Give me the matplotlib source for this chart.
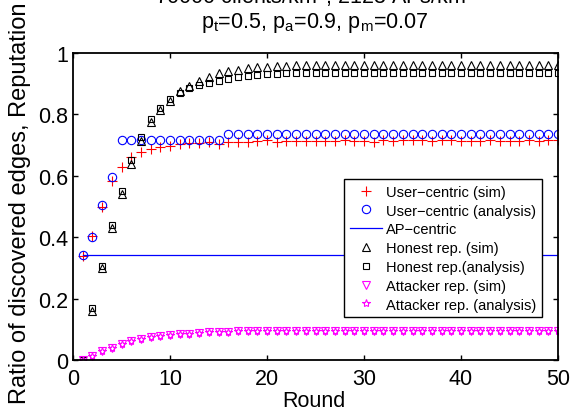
import matplotlib
matplotlib.use("Agg")
import matplotlib.pyplot as plt
import numpy as np

plt.rcParams['font.family'] = ['Liberation Sans', 'DejaVu Sans']
plt.rcParams['mathtext.fontset'] = 'custom'
plt.rcParams['mathtext.rm'] = 'Liberation Sans'
plt.rcParams['mathtext.it'] = 'Liberation Sans'

# ---- data -------------------------------------------------------------
rounds = np.arange(1, 51)

user_sim = [0.340, 0.405, 0.500, 0.584, 0.630, 0.660, 0.676, 0.687, 0.693, 0.697,
            0.702, 0.706, 0.708, 0.709, 0.705, 0.709, 0.711, 0.711, 0.713, 0.717,
            0.711, 0.712, 0.713, 0.713, 0.713, 0.713, 0.713, 0.717, 0.713, 0.712,
            0.711, 0.716, 0.714, 0.716, 0.715, 0.715, 0.714, 0.716, 0.715, 0.714,
            0.714, 0.714, 0.715, 0.714, 0.714, 0.714, 0.715, 0.714, 0.716, 0.715]

user_ana = [0.342, 0.400, 0.506, 0.595] + [0.716] * 11 + [0.736] * 35

ap_centric = 0.342

honest_sim = [0.000, 0.159, 0.299, 0.430, 0.540, 0.640, 0.714, 0.775, 0.815, 0.845,
              0.877, 0.894, 0.910, 0.923, 0.934, 0.941, 0.946, 0.950, 0.953, 0.956,
              0.958, 0.959] + [0.961] * 28

honest_ana = [0.000, 0.168, 0.307, 0.440, 0.550, 0.650, 0.726, 0.785, 0.822, 0.850,
              0.869, 0.885, 0.896, 0.903, 0.909, 0.916, 0.921, 0.926, 0.929, 0.932,
              0.933, 0.934] + [0.935] * 28

attacker_sim = [0.000, 0.014, 0.029, 0.040, 0.051, 0.062, 0.068, 0.074, 0.077, 0.081,
                0.084, 0.086, 0.088, 0.090, 0.091, 0.092, 0.093, 0.094] + [0.095] * 32

attacker_ana = [0.000, 0.014, 0.029, 0.040, 0.051, 0.062, 0.069, 0.075, 0.078, 0.081,
                0.084, 0.086, 0.088, 0.090, 0.091, 0.092, 0.093, 0.094] + [0.095] * 32

labels = ["User\u2212centric (sim)", "User\u2212centric (analysis)", "AP\u2212centric",
          "Honest rep. (sim)", "Honest rep.(analysis)", "Attacker rep. (sim)",
          "Attacker rep. (analysis)"]

# ---- figure -----------------------------------------------------------
W, H = 570, 410
fig = plt.figure(figsize=(W / 100, H / 100), dpi=100)
ax = fig.add_axes([73 / W, 49 / H, 485 / W, 307 / H])

ms = 6
mew = 0.8
ax.plot(rounds, user_sim, ls='none', marker='+', color='#ff0000', ms=ms + 1, mew=mew, label=labels[0])
ax.plot(rounds, user_ana, ls='none', marker='o', mfc='none', mec='#0000ff', ms=ms, mew=mew, label=labels[1])
ax.plot(rounds, [ap_centric] * len(rounds), ls='-', color='#0000ff', lw=0.9, label=labels[2])
ax.plot(rounds, honest_sim, ls='none', marker='^', mfc='none', mec='black', ms=ms, mew=mew, label=labels[3])
ax.plot(rounds, honest_ana, ls='none', marker='s', mfc='none', mec='black', ms=ms - 1, mew=mew, label=labels[4])
ax.plot(rounds, attacker_sim, ls='none', marker='v', mfc='none', mec='#ff00ff', ms=ms, mew=mew, label=labels[5])
ax.plot(rounds, attacker_ana, ls='none', marker='*', mfc='none', mec='#ff00ff', ms=ms, mew=mew, label=labels[6])

ax.set_xlim(0, 50)
ax.set_ylim(0, 1)
ax.set_xticks(np.arange(0, 51, 10))
ax.set_yticks([0, 0.2, 0.4, 0.6, 0.8, 1])
ax.set_yticklabels(['0', '0.2', '0.4', '0.6', '0.8', '1'])

fs = 15.5
ax.tick_params(axis='both', direction='in', top=True, right=True, length=3.3,
               width=1.0, labelsize=fs)
ax.tick_params(axis='x', pad=6)
ax.tick_params(axis='y', pad=3.5)
for sp in ax.spines.values():
    sp.set_linewidth(1.3)

fig.text(314 / W, 3 / H, "Round", ha='center', va='baseline', fontsize=fs)
fig.text(20 / W, (H - 203) / H, "Ratio of discovered edges, Reputation",
         rotation=90, ha='center', va='center', fontsize=fs + 1.5)

fig.text(315 / W, (H - 4) / H, "70000 clients/km$^2$, 2123 APs/km$^2$",
         ha='center', va='baseline', fontsize=fs)
fig.text(315 / W, (H - 28) / H, "p$_t$=0.5, p$_a$=0.9, p$_m$=0.07",
         ha='center', va='baseline', fontsize=fs)

leg = ax.legend(loc='upper left', bbox_to_anchor=(0.559, 0.59), borderaxespad=0,
                fontsize=10.5, numpoints=1, handlelength=2.2, handletextpad=0.3,
                labelspacing=0.33, borderpad=0.4, fancybox=False, framealpha=1,
                edgecolor='black')
leg.get_frame().set_linewidth(1.0)

fig.savefig("out.png", dpi=100)
